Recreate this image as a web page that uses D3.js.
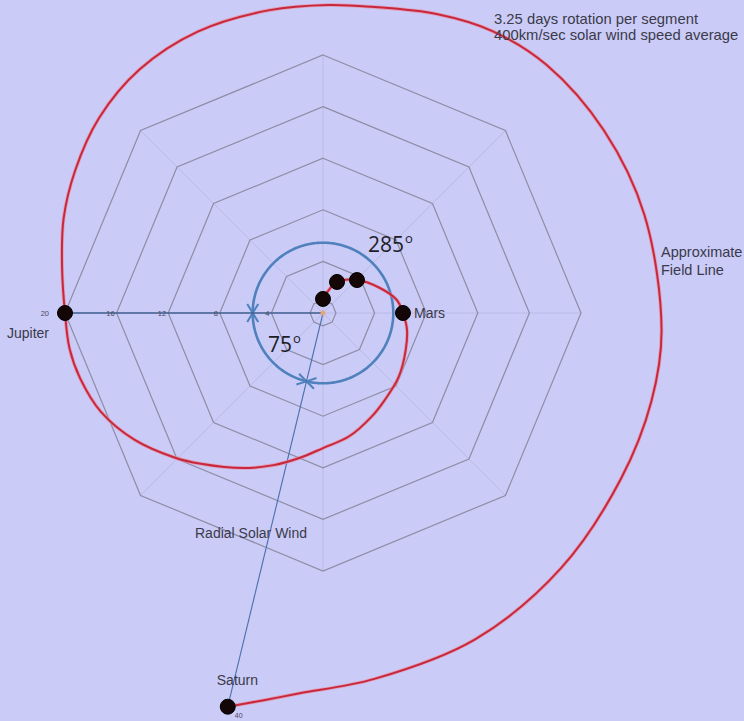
<!DOCTYPE html>
<html><head><meta charset="utf-8">
<script src="https://cdn.jsdelivr.net/npm/d3@7"></script>
<style>html,body{margin:0;padding:0;background:#cbcbf7;} svg{display:block}</style>
</head><body><svg id="c" width="744" height="721"></svg>
<script>
// ---------- data ----------
const ringValues = [1, 4, 8, 12, 16, 20];
const tickValues = [4, 8, 12, 16, 20];
const tickLabels = ["4", "8", "12", "16", "20"];
const spokeAngles = [0, 45, 90, 135, 180, 225, 270, 315];
const planetNames = ["", "", "", "Mars", "Jupiter", "Saturn"];
const planetAngles = [0, 24.3, 45.9, 90, 270, 193.6];
const planetDistances = [1.09, 2.64, 3.67, 6.2, 20, 31.4];
const fieldAngles = [0, 24.3, 45.9, 66.3, 80, 90, 101, 114, 130, 145, 155, 168, 180, 189, 198, 207, 219, 226, 236, 246, 255, 262, 270, 280, 290, 300, 311, 323, 336, 350, 361, 369, 381, 391, 402, 417, 433, 453, 465, 479, 497, 515, 532, 543.5, 548.5, 553.6];
const fieldDistances = [1.09, 2.64, 3.67, 4.82, 5.81, 6.2, 6.63, 7.02, 7.67, 8.29, 8.88, 9.77, 10.47, 11.36, 12.4, 13.49, 15.04, 16.09, 17.6, 18.84, 19.5, 19.84, 20, 20.54, 21.4, 22.17, 23.02, 23.64, 23.88, 23.84, 23.88, 24.03, 24.81, 25.5, 25.89, 25.97, 26.05, 26.28, 26.36, 26.43, 27.05, 27.91, 28.64, 29.53, 30.33, 31.4];
const windAngles = [270, 193.6];
const arcRadius = 5.45;
const arcSpans = [[193.6, 270], [270, 553.6]];
const arcLabels = ["285", "75"];
const noteLines = ["3.25 days rotation per segment", "400km/sec solar wind speed average"];
const fieldLabel = ["Approximate", "Field Line"];
const windLabel = "Radial Solar Wind";
const saturnTick = "40";

// ---------- setup ----------
const W = 744, H = 721, cx = 323, cy = 313;
const svg = d3.select("#c");
svg.append("rect").attr("width", W).attr("height", H).attr("fill", "#cbcbf7");
const r = d3.scaleLinear().domain([0, 20]).range([0, 258]);
const rad = d => d * Math.PI / 180;
const px = (a, d) => r(d) * Math.sin(rad(a));
const py = (a, d) => -r(d) * Math.cos(rad(a));
const g = svg.append("g").attr("transform", `translate(${cx},${cy})`);

// spokes
g.selectAll("line.spoke").data(spokeAngles).join("line")
  .attr("x1", 0).attr("y1", 0)
  .attr("x2", a => px(a, 20)).attr("y2", a => py(a, 20))
  .attr("stroke", "#babae6").attr("stroke-width", 1);

// octagon rings
const ringLine = d3.lineRadial().angle(a => rad(a)).curve(d3.curveLinearClosed);
g.selectAll("path.ring").data(ringValues).join("path")
  .attr("d", v => ringLine.radius(r(v))(spokeAngles))
  .attr("fill", "none").attr("stroke", "#8d8da6").attr("stroke-width", 1.2);

// markers
const defs = svg.append("defs");
defs.append("marker").attr("id", "chev")
  .attr("viewBox", "-11 -7 13 14").attr("refX", 0).attr("refY", 0)
  .attr("markerWidth", 13).attr("markerHeight", 14)
  .attr("markerUnits", "userSpaceOnUse").attr("orient", "auto-start-reverse")
  .append("path").attr("d", "M-9,-5.5 L0,0 L-9,5.5")
  .attr("fill", "none").attr("stroke", "#4f81bd").attr("stroke-width", 2);

// blue arcs
const arcLine = d3.lineRadial().angle(a => rad(a)).radius(r(arcRadius));
arcSpans.forEach(([a0, a1]) => {
  const pts = d3.range(a0, a1, 1).concat([a1]);
  g.append("path").attr("d", arcLine(pts))
    .attr("fill", "none").attr("stroke", "#4f81bd").attr("stroke-width", 2.6)
    .attr("marker-start", "url(#chev)").attr("marker-end", "url(#chev)");
});

// radial solar wind lines
g.selectAll("line.wind").data(windAngles).join("line")
  .attr("x1", 0).attr("y1", 0)
  .attr("x2", a => px(a, planetDistances[planetAngles.indexOf(a)]))
  .attr("y2", a => py(a, planetDistances[planetAngles.indexOf(a)]))
  .attr("stroke", (a, i) => i === 0 ? "#3f5f8f" : "#4a70ad")
  .attr("stroke-width", (a, i) => i === 0 ? 1.4 : 1.1);

// tick labels
g.selectAll("text.tick").data(tickValues).join("text")
  .attr("x", v => px(270, v) - (v === 20 ? 16 : 2)).attr("y", 0).attr("dy", "0.35em")
  .attr("text-anchor", "end").attr("font-family", "Liberation Sans, Arial, sans-serif")
  .attr("font-size", 7.5).attr("fill", "#4a4a5a")
  .text((v, i) => tickLabels[i]);

// sun
g.append("circle").attr("r", 2.5).attr("fill", "#e4a878");

// field line
const field = fieldAngles.map((a, i) => [rad(a), r(fieldDistances[i])]);
const fl = d3.lineRadial().curve(d3.curveCatmullRom.alpha(0.5));
g.append("path").attr("d", fl(field)).attr("fill", "none")
  .attr("stroke", "#e98a9a").attr("stroke-width", 3.6).attr("stroke-opacity", 0.7);
g.append("path").attr("d", fl(field)).attr("fill", "none")
  .attr("stroke", "#c8283e").attr("stroke-width", 2);

// planets
g.selectAll("circle.planet").data(planetAngles).join("circle")
  .attr("cx", (a, i) => px(a, planetDistances[i]))
  .attr("cy", (a, i) => py(a, planetDistances[i]))
  .attr("r", 7.5).attr("fill", "#140606").attr("stroke", "#000").attr("stroke-width", 1);

// planet labels
const lab = { family: "Liberation Sans, Arial, sans-serif", color: "#3a3a4a" };
const off = { "Mars": [11, 5, "start"], "Jupiter": [-58, 25, "start"], "Saturn": [-11, -22, "start"] };
planetNames.forEach((n, i) => {
  if (!n) return;
  const o = off[n];
  g.append("text").attr("x", px(planetAngles[i], planetDistances[i]) + o[0])
    .attr("y", py(planetAngles[i], planetDistances[i]) + o[1])
    .attr("font-family", lab.family).attr("font-size", 14).attr("fill", lab.color)
    .attr("text-anchor", o[2]).text(n);
});
// saturn tick
const si = planetNames.indexOf("Saturn");
g.append("text").attr("x", px(planetAngles[si], planetDistances[si]) + 11)
  .attr("y", py(planetAngles[si], planetDistances[si]) + 11.5)
  .attr("text-anchor", "middle").attr("font-family", lab.family)
  .attr("font-size", 7).attr("fill", "#4a4a5a").text(saturnTick);

// notes
svg.selectAll("text.note").data(noteLines).join("text")
  .attr("x", 494).attr("y", (d, i) => 24 + i * 15.5)
  .attr("font-family", lab.family).attr("font-size", 14.8).attr("fill", lab.color).text(d => d);
svg.selectAll("text.fl").data(fieldLabel).join("text")
  .attr("x", 661).attr("y", (d, i) => 257 + i * 17.5)
  .attr("font-family", lab.family).attr("font-size", 14.5).attr("fill", lab.color).text(d => d);
svg.append("text").attr("x", 195).attr("y", 538)
  .attr("font-family", lab.family).attr("font-size", 14).attr("fill", lab.color).text(windLabel);

// degree labels
const degPos = [[368, 252], [268, 352]];
arcLabels.forEach((t, i) => {
  const tx = svg.append("text").attr("x", degPos[i][0]).attr("y", degPos[i][1])
    .attr("font-family", "Open Sans, sans-serif").attr("font-size", 21).attr("fill", "#1e1e2a");
  tx.append("tspan").text(t);
  tx.append("tspan").attr("dy", -9).attr("dx", 1).attr("font-size", 13).text("o");
});
</script></body></html>
